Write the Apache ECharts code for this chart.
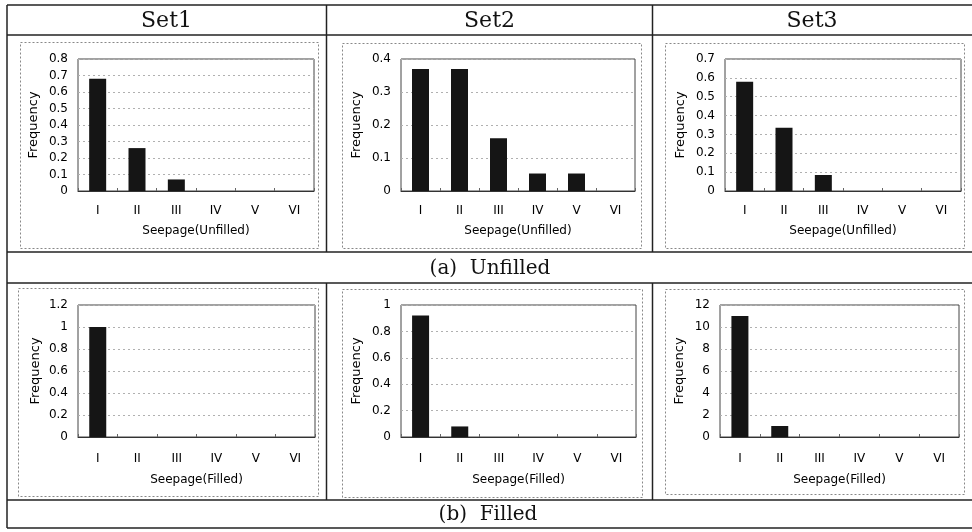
<!DOCTYPE html>
<html>
<head>
<meta charset="utf-8">
<script src="https://cdn.jsdelivr.net/npm/echarts@6/dist/echarts.min.js"></script>
<style>
html,body{margin:0;padding:0;background:#fff;}
#chart{width:972px;height:532px;}
</style>
</head>
<body>
<div id="chart"></div>
<script>
// ---- data ----
const categories = ['I', 'II', 'III', 'IV', 'V', 'VI'];
const set1Unfilled = [0.68, 0.26, 0.07, 0, 0, 0];
const set2Unfilled = [0.37, 0.37, 0.16, 0.053, 0.053, 0];
const set3Unfilled = [0.58, 0.335, 0.085, 0, 0, 0];
const set1Filled = [1, 0, 0, 0, 0, 0];
const set2Filled = [0.92, 0.08, 0, 0, 0, 0];
const set3Filled = [11, 1, 0, 0, 0, 0];
const yMaxes = [0.8, 0.4, 0.7, 1.2, 1, 12];
const yIntervals = [0.1, 0.1, 0.1, 0.2, 0.2, 2];
const headers = ['Set1', 'Set2', 'Set3'];
const captions = ['(a)  Unfilled', '(b)  Filled'];
const xNames = ['Seepage(Unfilled)', 'Seepage(Filled)'];
const yName = 'Frequency';

const seriesData = [set1Unfilled, set2Unfilled, set3Unfilled, set1Filled, set2Filled, set3Filled];

// ---- layout ----
const grids = [
  {left: 78, top: 59, width: 236, height: 132},
  {left: 401, top: 59, width: 234, height: 132},
  {left: 725, top: 59, width: 236, height: 132},
  {left: 78, top: 305, width: 237, height: 132},
  {left: 401, top: 305, width: 235, height: 132},
  {left: 720, top: 305, width: 239, height: 132}
];
const yNameGaps = [38, 38, 38, 36, 38, 34];
const boxes = [
  [20, 42, 298, 206], [342, 43, 299, 205], [665, 43, 299, 205],
  [18, 288, 300, 208], [342, 289, 300, 208], [665, 289, 299, 205]
];

const axisFont = 'DejaVu Sans';
const option = {
  animation: false,
  backgroundColor: '#fff',
  grid: grids.map(g => Object.assign({show: true, borderColor: '#444', borderWidth: 1, backgroundColor: 'transparent'}, g)),
  xAxis: grids.map((g, i) => ({
    type: 'category',
    gridIndex: i,
    data: categories,
    name: xNames[i < 3 ? 0 : 1],
    nameLocation: 'middle',
    nameGap: i < 3 ? 34 : 37,
    nameTextStyle: {fontFamily: axisFont, fontSize: 12, color: '#000'},
    axisLine: {show: true, lineStyle: {color: '#333', width: 1}},
    axisTick: {show: true, inside: true, length: 3, lineStyle: {color: '#666'}},
    axisLabel: {fontFamily: axisFont, fontSize: 12, color: '#000', margin: i < 3 ? 14 : 16},
    splitLine: {show: false}
  })),
  yAxis: grids.map((g, i) => ({
    type: 'value',
    gridIndex: i,
    min: 0,
    max: yMaxes[i],
    interval: yIntervals[i],
    name: yName,
    nameLocation: 'middle',
    nameGap: yNameGaps[i],
    nameTextStyle: {fontFamily: axisFont, fontSize: 13, color: '#000'},
    axisLine: {show: false},
    axisTick: {show: false},
    axisLabel: {fontFamily: axisFont, fontSize: 12, color: '#000', margin: 10},
    splitLine: {show: true, lineStyle: {color: '#b0b0b0', width: 1, type: [2, 3]}}
  })),
  series: seriesData.map((d, i) => ({
    type: 'bar',
    xAxisIndex: i,
    yAxisIndex: i,
    data: d,
    barWidth: 17,
    itemStyle: {color: '#151515'}
  })),
  graphic: []
};

const lineStyle = {stroke: '#222', lineWidth: 1.5};
const g = option.graphic;
// dashed chart boxes
boxes.forEach(b => g.push({type: 'rect', z: -1, shape: {x: b[0] + 0.5, y: b[1] + 0.5, width: b[2], height: b[3]},
  style: {fill: 'none', stroke: '#888', lineWidth: 1, lineDash: [2, 2]}}));
// table lines
const hLines = [5, 35, 252, 283, 500, 528];
hLines.forEach(y => g.push({type: 'line', shape: {x1: 7, y1: y, x2: 972, y2: y}, style: lineStyle}));
g.push({type: 'line', shape: {x1: 7, y1: 5, x2: 7, y2: 528}, style: lineStyle});
[326.5, 652.5].forEach(x => {
  g.push({type: 'line', shape: {x1: x, y1: 5, x2: x, y2: 252}, style: lineStyle});
  g.push({type: 'line', shape: {x1: x, y1: 283, x2: x, y2: 500}, style: lineStyle});
});
// headers
const headerX = [166.5, 489.5, 812];
headers.forEach((t, i) => g.push({type: 'text', x: headerX[i], y: 21,
  style: {text: t, fontFamily: 'DejaVu Serif', fontSize: 22, fill: '#111', align: 'center', verticalAlign: 'middle'}}));
// captions
g.push({type: 'text', x: 490, y: 269, style: {text: captions[0], fontFamily: 'DejaVu Serif', fontSize: 20, fill: '#111', align: 'center', verticalAlign: 'middle'}});
g.push({type: 'text', x: 488, y: 515, style: {text: captions[1], fontFamily: 'DejaVu Serif', fontSize: 20, fill: '#111', align: 'center', verticalAlign: 'middle'}});

const chart = echarts.init(document.getElementById('chart'), null, {renderer: 'canvas'});
chart.setOption(option);
</script>
</body>
</html>
